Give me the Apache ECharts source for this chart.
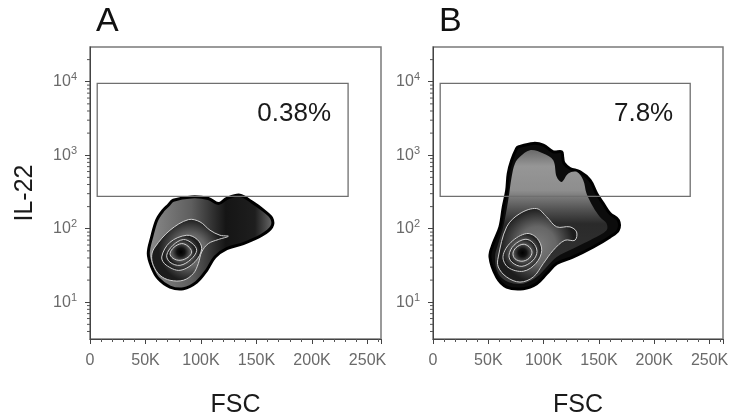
<!DOCTYPE html>
<html>
<head>
<meta charset="utf-8">
<title>IL-22 / FSC</title>
<script src="https://cdn.jsdelivr.net/npm/echarts@6/dist/echarts.min.js"></script>
<style>
html, body { margin: 0; padding: 0; background: #fff; }
#chart1 { width: 730px; height: 416px; }
</style>
</head>
<body>
<div id="chart1"></div>
<script>
// axis ranges and ticks
var fscMax = 262144;
var fscTicks = [0, 50000, 100000, 150000, 200000, 250000];
var il22Min = 3.16, il22Max = 29700;
var il22Minor = [4, 5, 6, 7, 8, 9, 20, 30, 40, 50, 60, 70, 80, 90,
    200, 300, 400, 500, 600, 700, 800, 900,
    2000, 3000, 4000, 5000, 6000, 7000, 8000, 9000, 20000];

// panels and gate
var panelNames = ['A', 'B'];
var gatePercent = ['0.38%', '7.8%'];
var gateFsc = [6500, 232500];
var gateIl22 = [275, 9500];

// contour outlines, [FSC, IL-22]
var outerA = [[70500, 209], [75000, 244], [91600, 271], [106600, 258], [115600, 220], [123200, 258],
    [135000, 286], [145700, 232], [156100, 179], [163700, 139], [163700, 106], [154700, 81.5],
    [138100, 62.8], [123200, 53.7], [112600, 41.3], [105100, 27.2], [96100, 18.8], [84100, 15.3],
    [72100, 16.1], [61500, 21.0], [55600, 30.2], [52500, 46], [55600, 77.3], [60100, 131], [66000, 179]];
var contour1A = [[58600, 56.5], [72100, 95.5], [88600, 133], [99100, 124], [108100, 95.5], [117100, 81.5],
    [124600, 79], [115600, 71.3], [106600, 62.8], [100600, 48.3], [97600, 33.6], [93100, 24.6],
    [84100, 19.9], [72100, 19.9], [63100, 23.2], [57000, 31.8], [55600, 43.6]];
var ring2A = [[87100, 81.5], [96400, 71.9], [100600, 53.7], [94600, 35.6], [81100, 27.2], [68500, 32.1], [64600, 41.3], [72100, 65.5]];
var ring3A = [[84100, 71.3], [91900, 63.4], [96100, 50.9], [91000, 38.4], [81100, 31.8], [72100, 35.0], [69100, 43.6], [74800, 59.6]];
var ring4A = [[82600, 62.8], [88300, 57.8], [91600, 48.3], [88300, 40.9], [81100, 37.2], [74800, 39.6], [72100, 46], [75700, 56]];

var outerB = [[77100, 1300], [90700, 1449], [99700, 1374], [108700, 1112], [116300, 1112], [117200, 951],
    [118400, 780], [123800, 661], [132900, 594], [141900, 458], [147900, 302], [153900, 220],
    [160000, 161], [167500, 131], [167500, 95.5], [160000, 77.3], [144900, 56.5], [126800, 41.3],
    [111800, 33.6], [102800, 24.6], [93700, 17.9], [81600, 15.3], [66600, 16.1], [57600, 22.0],
    [51500, 41.3], [54500, 62.8], [60500, 106], [63500, 198], [66600, 335], [68000, 565],
    [71100, 857], [75600, 1239]];
var grayB = [[78600, 951], [87600, 1172], [99700, 1059], [108700, 857], [111800, 508], [116300, 434],
    [122300, 565], [129900, 594], [135800, 458], [138800, 302], [144800, 198], [150900, 145],
    [156900, 118], [156900, 95.5], [144800, 73.5], [126800, 53.7], [111800, 41.3], [102800, 30.2],
    [93700, 22.0], [81600, 17.9], [68000, 18.8], [59000, 24.6], [56000, 41.3], [59000, 62.8],
    [63500, 106], [68000, 244], [71100, 508], [74100, 773]];
var contour1B = [[59000, 41.3], [66600, 106], [78600, 161], [93700, 188], [102800, 145], [111800, 106],
    [123800, 106], [129800, 90.4], [128300, 69.7], [119200, 69.7], [108700, 50.9], [99700, 33.6],
    [90600, 22.0], [78600, 18.8], [66600, 22.0], [59000, 30.2]];
var ring2B = [[84700, 86], [94000, 74.3], [98300, 50.9], [93100, 33.9], [81600, 26.4], [67800, 29.9], [63300, 42.2], [70500, 65.5]];
var ring3B = [[83200, 71.9], [90400, 64.5], [94000, 49.3], [90400, 37.2], [80400, 30.8], [71400, 35], [68700, 43.6], [73200, 59.6]];
var ring4B = [[81400, 61.5], [86800, 56.9], [89500, 47.9], [86800, 39.6], [80400, 36.1], [74100, 39], [72300, 46.3], [75000, 55.1]];

var font = '"Liberation Sans", Arial, sans-serif';

function radial(stops) {
    var cs = [];
    for (var i = 0; i < stops.length; i++) cs.push({offset: stops[i][0], color: stops[i][1]});
    return {type: 'radial', x: 0.5, y: 0.5, r: 0.5, colorStops: cs};
}
var bandStyle = {fill: radial([[0, '#7c7c7c'], [0.5, '#666'], [1, '#1c1c1c']]), stroke: '#cfcfcf', lineWidth: 1};
var coreStyle = {fill: radial([[0, '#000'], [0.45, '#121212'], [1, '#555']]), stroke: '#cfcfcf', lineWidth: 1};

var blobA = [
    {pts: outerA, style: {
        fill: {type: 'linear', x: 0, y: 0, x2: 1, y2: 0, colorStops: [
            {offset: 0, color: '#8c8c8c'}, {offset: 0.35, color: '#5e5e5e'},
            {offset: 0.62, color: '#151515'}, {offset: 0.85, color: '#1e1e1e'}, {offset: 1, color: '#707070'}]},
        stroke: '#000', lineWidth: 3, lineJoin: 'round'}},
    {pts: contour1A, style: bandStyle},
    {pts: ring2A, style: bandStyle},
    {pts: ring3A, style: bandStyle},
    {pts: ring4A, style: coreStyle}
];
var blobB = [
    {pts: outerB, style: {fill: '#0c0c0c', stroke: '#000', lineWidth: 3, lineJoin: 'round'}},
    {pts: grayB, style: {
        fill: {type: 'linear', x: 0, y: 0, x2: 0, y2: 1, colorStops: [
            {offset: 0, color: '#6a6a6a'}, {offset: 0.12, color: '#969696'},
            {offset: 0.3, color: '#8e8e8e'}, {offset: 0.45, color: '#505050'},
            {offset: 0.55, color: '#2a2a2a'}, {offset: 1, color: '#363636'}]},
        stroke: null}},
    {pts: contour1B, style: bandStyle},
    {pts: ring2B, style: bandStyle},
    {pts: ring3B, style: bandStyle},
    {pts: ring4B, style: coreStyle}
];

function blobRender(layers) {
    return function (params, api) {
        var children = [];
        for (var i = 0; i < layers.length; i++) {
            var p = [];
            for (var j = 0; j < layers[i].pts.length; j++) {
                p.push(api.coord(layers[i].pts[j]));
            }
            children.push({type: 'polygon', shape: {points: p, smooth: 0.35}, style: layers[i].style});
        }
        return {type: 'group', children: children};
    };
}

function gateRender(idx) {
    return function (params, api) {
        var p1 = api.coord([gateFsc[0], gateIl22[1]]);
        var p2 = api.coord([gateFsc[1], gateIl22[0]]);
        return {type: 'group', children: [
            {type: 'rect', shape: {x: p1[0], y: p1[1], width: p2[0] - p1[0], height: p2[1] - p1[1]},
                style: {fill: null, stroke: '#6f6f6f', lineWidth: 1.3}},
            {type: 'text', style: {text: gatePercent[idx], x: p2[0] - 17, y: p1[1] + 17,
                align: 'right', verticalAlign: 'top', fontSize: 26, fontFamily: font, fill: '#1a1a1a'}}
        ]};
    };
}

function minorRender(params, api) {
    var p = api.coord([0, api.value(1)]);
    return {type: 'line', shape: {x1: p[0] - 3, y1: p[1], x2: p[0], y2: p[1]},
        style: {stroke: '#555', lineWidth: 1}};
}

var myChart = echarts.init(document.getElementById('chart1'));
var grids = [], xAxes = [], yAxes = [], series = [], graphics = [];
var gridLeft = [90, 433], gridWidth = [291, 290];
var minorData = [];
for (var k = 0; k < il22Minor.length; k++) minorData.push([0, il22Minor[k]]);

for (var i = 0; i < 2; i++) {
    grids.push({left: gridLeft[i], top: 47, width: gridWidth[i], height: 292,
        show: true, borderColor: '#7a7a7a', borderWidth: 1.5, outerBoundsMode: 'none'});
    xAxes.push({
        type: 'value', gridIndex: i, min: 0, max: fscMax, interval: 50000,
        name: 'FSC', nameLocation: 'middle', nameGap: 54,
        nameTextStyle: {fontSize: 25, color: '#1a1a1a', fontFamily: font},
        axisLine: {show: true, lineStyle: {color: '#444', width: 1}},
        axisTick: {show: true, length: 5, lineStyle: {color: '#444'}},
        minorTick: {show: true, splitNumber: 5, length: 3, lineStyle: {color: '#555'}},
        splitLine: {show: false},
        axisLabel: {margin: 14, fontSize: 16, color: '#6a6a6a', fontFamily: font, showMaxLabel: false,
            formatter: function (v) {
                if (fscTicks.indexOf(v) < 0) return '';
                return v === 0 ? '0' : (v / 1000) + 'K';
            }}
    });
    yAxes.push({
        type: 'log', logBase: 10, gridIndex: i, min: il22Min, max: il22Max,
        name: i === 0 ? 'IL-22' : '', nameLocation: 'middle', nameGap: 52, nameRotate: 90,
        nameTextStyle: {fontSize: 25, color: '#1a1a1a', fontFamily: font},
        axisLine: {show: true, lineStyle: {color: '#444', width: 1}},
        axisTick: {show: true, length: 5, lineStyle: {color: '#444'}},
        splitLine: {show: false},
        axisLabel: {margin: 13, showMinLabel: false, showMaxLabel: false,
            formatter: function (v) {
                return '{b|10}{s|' + Math.round(Math.log(v) / Math.LN10) + '}';
            },
            rich: {
                b: {fontSize: 16, color: '#6a6a6a', fontFamily: font},
                s: {fontSize: 11, color: '#6a6a6a', fontFamily: font, padding: [0, 0, 9, 0]}
            }}
    });
    series.push({type: 'custom', xAxisIndex: i, yAxisIndex: i, silent: true,
        renderItem: blobRender(i === 0 ? blobA : blobB), data: [[100000, 100]]});
    series.push({type: 'custom', xAxisIndex: i, yAxisIndex: i, silent: true,
        renderItem: gateRender(i), data: [[100000, 100]]});
    series.push({type: 'custom', xAxisIndex: i, yAxisIndex: i, silent: true,
        renderItem: minorRender, data: minorData});
    graphics.push({type: 'text', left: gridLeft[i] + 6, top: 5,
        style: {text: panelNames[i], fontSize: 34, fontFamily: font, fill: '#111'}});
}

myChart.setOption({
    animation: false,
    grid: grids,
    xAxis: xAxes,
    yAxis: yAxes,
    graphic: graphics,
    series: series
});
</script>
</body>
</html>
